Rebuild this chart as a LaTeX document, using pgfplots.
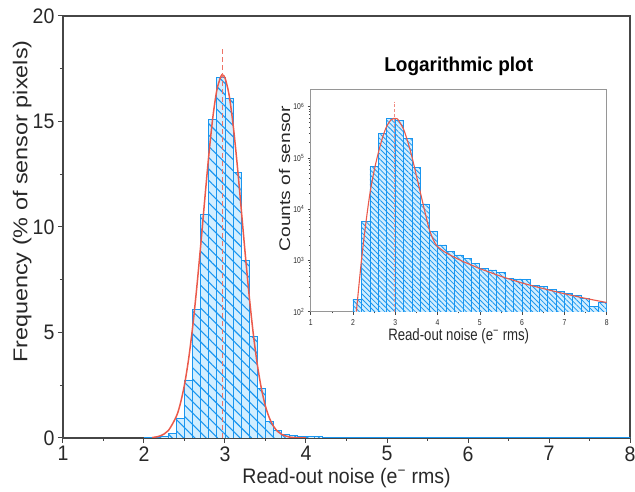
\documentclass[border=0pt]{standalone}
\usepackage{fontspec}
\setmainfont{Liberation Sans}
\newfontfamily\mh[FakeStretch=0.93]{Liberation Sans}
\newfontfamily\mv[FakeStretch=1.17]{Liberation Sans}
\newfontfamily\ih[FakeStretch=0.8]{Liberation Sans}
\newfontfamily\iv[FakeStretch=1.25]{Liberation Sans}
\newfontfamily\ibold[FakeStretch=0.95]{Liberation Sans}
\usepackage{pgfplots}
\pgfplotsset{compat=1.18}
\usetikzlibrary{patterns.meta}
\definecolor{barblue}{RGB}{25,150,240}
\definecolor{barfill}{RGB}{210,238,255}
\definecolor{fitred}{RGB}{235,90,75}
\definecolor{axgray}{RGB}{70,70,70}
\definecolor{ingray}{RGB}{150,150,150}
\definecolor{txt}{RGB}{40,40,40}
\begin{document}
\begin{tikzpicture}
\useasboundingbox (-63pt,-54pt) rectangle (572pt,438pt);
\begin{axis}[
  at={(0pt,0pt)}, anchor=south west,
  scale only axis, width=567pt, height=422pt,
  xmin=1, xmax=8, ymin=0, ymax=20,
  xtick={1,...,8}, ytick={0,5,10,15,20},
  minor x tick num=1, minor y tick num=1,
  xtick pos=bottom, ytick pos=left,
  tick align=outside,
  major tick length=5pt, minor tick length=3pt,
  axis line style={axgray, line width=1.1pt},
  every tick/.style={axgray, line width=1pt},
  /pgf/number format/assume math mode=true,
  ticklabel style={font=\mh\fontsize{21}{21}\selectfont, text=txt},
  xlabel={Read-out noise (e\textsuperscript{−} rms)},
  ylabel={Frequency (\% of sensor pixels)},
  xlabel style={font=\mh\fontsize{21}{21}\selectfont, text=txt, at={(axis description cs:0.5,-0.095)}, anchor=center},
  ylabel style={font=\mv\fontsize{20}{20}\selectfont, text=txt, at={(axis description cs:-0.072,0.56)}, anchor=center},
]
\addplot[ybar interval, draw=barblue, line width=0.9pt, fill=barfill,
  postaction={pattern={Lines[angle=-45,distance=8pt,line width=1.1pt]}, pattern color=barblue}]
table {
x y
2.0 0.003
2.1 0.01
2.2 0.06
2.3 0.22
2.4 0.93
2.5 2.75
2.6 6.1
2.7 10.6
2.8 15.1
2.9 17.1
3.0 16.1
3.1 12.6
3.2 8.4
3.3 4.8
3.4 2.35
3.5 0.8
3.6 0.35
3.7 0.15
3.8 0.1
3.9 0.07
4.0 0.056
4.1 0.054
4.2 0.046
4.3 0.044
4.4 0.04
4.5 0.038
4.6 0.036
4.7 0.035
4.8 0.034
4.9 0.033
5.0 0.032
5.1 0.031
5.2 0.03
5.3 0.03
5.4 0.029
5.5 0.028
5.6 0.027
5.7 0.026
5.8 0.026
5.9 0.025
6.0 0.025
6.1 0.024
6.2 0.023
6.3 0.023
6.4 0.022
6.5 0.022
6.6 0.021
6.7 0.021
6.8 0.02
6.9 0.02
7.0 0.02
7.1 0.019
7.2 0.019
7.3 0.018
7.4 0.018
7.5 0.017
7.6 0.016
7.7 0.016
7.8 0.016
7.9 0.015
8.0 0
};
\addplot[fitred, line width=1.5pt, smooth, no markers] table {
x y
2.1 0.02
2.2 0.10
2.3 0.35
2.4 1.03
2.45 1.65
2.5 2.53
2.55 3.72
2.6 5.24
2.65 7.07
2.7 9.13
2.75 11.3
2.8 13.4
2.85 15.2
2.9 16.5
2.95 17.14
2.97 17.2
3.0 17.07
3.05 16.27
3.1 14.85
3.15 12.99
3.2 10.87
3.25 8.71
3.3 6.69
3.35 4.91
3.4 3.46
3.45 2.33
3.5 1.50
3.55 0.93
3.6 0.55
3.65 0.31
3.7 0.17
3.8 0.04
3.9 0.01
4.0 0.0
};
\addplot[fitred!85, line width=1.4pt, dash pattern=on 5pt off 3pt, no markers] coordinates {(2.97,0) (2.97,18.5)};
\end{axis}
\begin{axis}[
  at={(247.7pt,126.3pt)}, anchor=south west,
  scale only axis, width=296pt, height=221.7pt,
  xmin=1, xmax=8, ymode=log, ymin=100, ymax=2.1e6,
  xtick={1,...,8}, minor x tick num=1,
  ytick={100,1000,10000,100000,1000000},
  yticklabels={10\textsuperscript{2},10\textsuperscript{3},10\textsuperscript{4},10\textsuperscript{5},10\textsuperscript{6}},
  xtick pos=bottom, ytick pos=left,
  tick align=outside,
  major tick length=3pt, minor tick length=1.8pt,
  axis line style={ingray, line width=1pt},
  every tick/.style={axgray, line width=0.6pt},
  /pgf/number format/assume math mode=true,
  ticklabel style={font=\ih\fontsize{8.5}{8.5}\selectfont, text=txt},
  xticklabel style={yshift=-1.5pt},
  title={Logarithmic plot},
  title style={font=\ibold\bfseries\fontsize{20}{20}\selectfont, text=black, at={(axis description cs:0.5,1.08)}, anchor=center},
  xlabel={Read-out noise (e\textsuperscript{−} rms)},
  ylabel={Counts of sensor},
  xlabel style={font=\ih\fontsize{16.5}{16.5}\selectfont, text=txt, at={(axis description cs:0.5,-0.11)}, anchor=center},
  ylabel style={font=\iv\fontsize{15.4}{15.4}\selectfont, text=txt, at={(axis description cs:-0.088,0.60)}, anchor=center},
]
\addplot[ybar interval, draw=barblue, line width=0.8pt, fill=barfill,
  postaction={pattern={Lines[angle=-45,distance=3.6pt,line width=0.8pt]}, pattern color=barblue}]
table {
x y
2.0 174
2.2 5700
2.4 67000
2.6 302000
2.8 590000
3.0 535000
3.2 240000
3.4 65000
3.6 12600
3.8 3630
4.0 2000
4.2 1520
4.4 1280
4.6 1090
4.8 875
5.0 700
5.2 650
5.4 575
5.6 450
5.8 435
6.0 428
6.2 330
6.4 307
6.6 272
6.8 246
7.0 228
7.2 205
7.4 182
7.6 125
7.8 150
8.0 150
};
\addplot[fitred, line width=1.1pt, smooth, no markers] table {
x y
2.08 100
2.2 1000
2.3 5000
2.4 20000
2.5 56000
2.6 126000
2.7 251000
2.8 417000
2.9 550000
2.97 589000
3.05 575000
3.1 501000
3.2 355000
3.3 200000
3.4 100000
3.5 44700
3.6 20000
3.7 8900
3.8 4170
3.9 2510
4.0 1860
4.2 1410
4.4 1150
4.6 955
4.8 813
5.0 692
5.5 490
6.0 363
6.5 282
7.0 224
7.5 182
8.0 151
};
\addplot[fitred!70, line width=0.9pt, dash pattern=on 3pt off 2pt, no markers] coordinates {(2.97,100) (2.97,1250000)};
\end{axis}
\end{tikzpicture}
\end{document}
